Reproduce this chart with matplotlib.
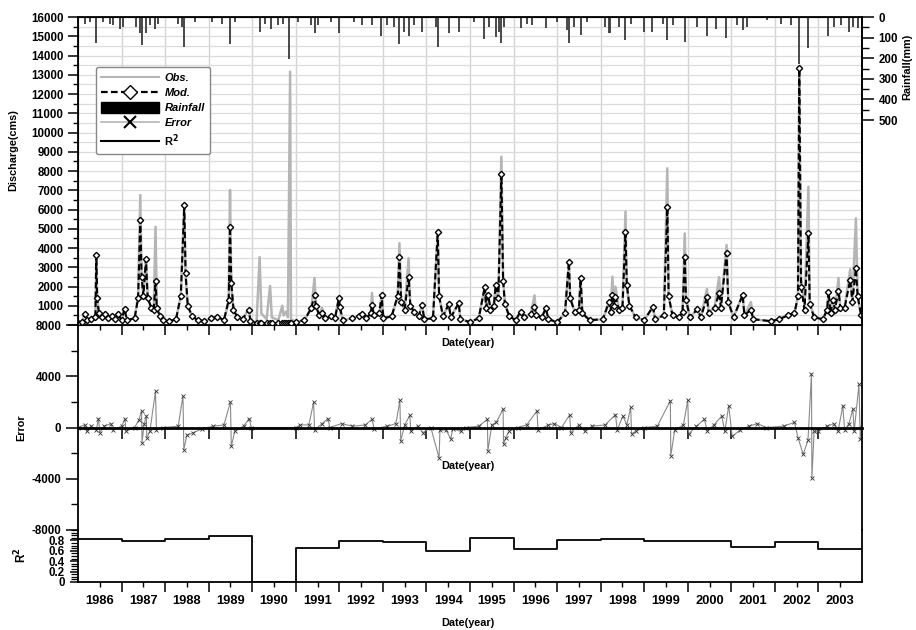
import matplotlib
matplotlib.use("Agg")
import matplotlib.pyplot as plt
import matplotlib.ticker as ticker
from matplotlib.lines import Line2D
from matplotlib.patches import Patch

plt.rcParams["font.family"] = ["Liberation Sans", "DejaVu Sans"]
plt.rcParams["font.weight"] = "bold"
plt.rcParams["axes.labelweight"] = "bold"
plt.rcParams["axes.unicode_minus"] = False

# ---- data ----
# hydrograph vertices: decimal year, observed and modelled discharge (cms)
hydro_t = [1986.00, 1986.10, 1986.15, 1986.20, 1986.30, 1986.40, 1986.42, 1986.44, 1986.48, 1986.55,
           1986.62, 1986.68, 1986.78, 1986.86, 1986.92, 1987.00, 1987.07, 1987.12, 1987.30, 1987.38,
           1987.43, 1987.46, 1987.50, 1987.56, 1987.60, 1987.68, 1987.74, 1987.78, 1987.81, 1987.88,
           1987.95, 1988.10, 1988.25, 1988.36, 1988.44, 1988.47, 1988.52, 1988.62, 1988.75, 1988.90,
           1989.05, 1989.20, 1989.35, 1989.46, 1989.49, 1989.52, 1989.57, 1989.66, 1989.78, 1989.92,
           1989.96, 1990.10, 1990.17, 1990.21, 1990.33, 1990.41, 1990.45, 1990.60, 1990.69, 1990.72,
           1990.78, 1990.82, 1990.87, 1990.89, 1991.00, 1991.20, 1991.36, 1991.43, 1991.46, 1991.54,
           1991.60, 1991.68, 1991.82, 1991.90, 1991.99, 1992.01, 1992.08, 1992.30, 1992.45, 1992.52,
           1992.62, 1992.72, 1992.75, 1992.79, 1992.92, 1992.97, 1993.01, 1993.20, 1993.34, 1993.38,
           1993.42, 1993.50, 1993.59, 1993.63, 1993.72, 1993.82, 1993.90, 1993.95, 1994.15, 1994.26,
           1994.29, 1994.38, 1994.51, 1994.56, 1994.74, 1994.78, 1995.00, 1995.20, 1995.34, 1995.37,
           1995.42, 1995.47, 1995.55, 1995.59, 1995.65, 1995.72, 1995.76, 1995.80, 1995.90, 1996.05,
           1996.16, 1996.25, 1996.40, 1996.48, 1996.52, 1996.65, 1996.74, 1996.80, 1997.00, 1997.18,
           1997.27, 1997.30, 1997.40, 1997.50, 1997.54, 1997.58, 1997.75, 1998.05, 1998.19, 1998.23,
           1998.27, 1998.30, 1998.34, 1998.42, 1998.50, 1998.57, 1998.60, 1998.66, 1998.80, 1999.00,
           1999.20, 1999.25, 1999.45, 1999.53, 1999.56, 1999.65, 1999.80, 1999.88, 1999.93, 1999.96,
           2000.05, 2000.22, 2000.30, 2000.44, 2000.48, 2000.62, 2000.72, 2000.76, 2000.89, 2000.93,
           2001.05, 2001.26, 2001.30, 2001.45, 2001.50, 2001.90, 2002.10, 2002.30, 2002.45, 2002.53,
           2002.56, 2002.60, 2002.68, 2002.77, 2002.80, 2002.90, 2003.10, 2003.20, 2003.23, 2003.28,
           2003.33, 2003.38, 2003.46, 2003.50, 2003.60, 2003.73, 2003.78, 2003.86, 2003.90, 2003.98]
obs_q = [120, 200, 600, 250, 350, 400, 3650, 1500, 650, 450,
         600, 350, 500, 350, 600, 250, 880, 250, 350, 1500,
         6750, 2600, 1500, 3420, 1500, 900, 800, 5100, 900, 450,
         250, 200, 300, 1500, 6230, 2500, 1000, 450, 250, 200,
         350, 450, 250, 1200, 7010, 2000, 800, 400, 350, 800,
         200, 150, 3530, 600, 300, 2030, 400, 250, 1000, 500,
         700, 400, 13160, 300, 150, 250, 900, 2440, 1000, 500,
         900, 350, 450, 350, 1400, 950, 250, 350, 500, 650,
         350, 600, 1660, 500, 600, 1560, 350, 450, 1500, 4250,
         1200, 800, 3470, 900, 650, 450, 1040, 300, 350, 4850,
         1500, 450, 1080, 400, 1130, 300, 150, 350, 1990, 900,
         1560, 800, 1200, 2080, 1300, 8740, 2500, 1200, 450, 250,
         700, 400, 600, 1540, 500, 400, 880, 300, 150, 600,
         3290, 1400, 700, 800, 2420, 600, 250, 300, 1190, 700,
         2510, 1000, 1990, 800, 900, 5890, 2000, 1000, 400, 250,
         950, 300, 500, 8140, 1500, 500, 400, 700, 4760, 1300,
         400, 820, 400, 1870, 600, 1000, 2490, 900, 4160, 1200,
         400, 1560, 500, 1190, 300, 200, 300, 550, 600, 1500,
         13250, 2500, 1000, 7190, 1200, 400, 300, 800, 1730, 600,
         1300, 800, 2440, 900, 900, 2900, 1200, 5540, 1500, 500]
mod_q = [120, 180, 550, 250, 320, 400, 3636, 1400, 600, 420,
         550, 350, 480, 330, 550, 250, 850, 250, 350, 1400,
         5450, 2500, 1500, 3420, 1400, 900, 800, 2290, 900, 450,
         250, 200, 300, 1500, 6230, 2700, 1000, 450, 250, 200,
         350, 420, 250, 1300, 5100, 2200, 800, 400, 300, 800,
         200, 100, 100, 100, 100, 100, 100, 100, 100, 100,
         100, 100, 100, 100, 150, 250, 900, 1560, 1000, 500,
         600, 350, 450, 350, 1400, 950, 250, 350, 450, 550,
         350, 600, 1040, 500, 600, 1560, 350, 450, 1500, 3550,
         1200, 800, 2510, 1000, 700, 450, 1040, 300, 350, 4850,
         1500, 450, 1080, 400, 1130, 300, 150, 350, 1990, 900,
         1560, 800, 1000, 2080, 1400, 7840, 2300, 1100, 450, 250,
         700, 400, 550, 950, 500, 400, 880, 300, 150, 600,
         3290, 1400, 700, 800, 2420, 600, 250, 300, 1190, 700,
         1560, 1000, 1470, 800, 900, 4850, 2100, 1000, 400, 250,
         950, 300, 500, 6110, 1500, 500, 400, 700, 3550, 1300,
         400, 820, 400, 1440, 600, 900, 1660, 900, 3720, 1200,
         400, 1560, 500, 800, 300, 200, 300, 500, 600, 1500,
         13330, 2000, 800, 4760, 1100, 400, 300, 800, 1730, 600,
         1300, 800, 1790, 900, 900, 2340, 1200, 2940, 1500, 500]

# daily rainfall bars (mm), hanging from the top
rain_t = [1986.15, 1986.27, 1986.42, 1986.57, 1986.73, 1986.80, 1986.96, 1987.03, 1987.34, 1987.42,
          1987.46, 1987.57, 1987.65, 1987.76, 1987.84, 1988.30, 1988.38, 1988.44, 1988.68, 1989.07,
          1989.30, 1989.49, 1989.60, 1990.18, 1990.29, 1990.44, 1990.60, 1990.71, 1990.84, 1991.06,
          1991.36, 1991.43, 1991.52, 1991.82, 1991.99, 1992.33, 1992.52, 1992.75, 1992.96, 1993.10,
          1993.25, 1993.36, 1993.48, 1993.60, 1993.71, 1993.90, 1994.21, 1994.26, 1994.51, 1994.74,
          1995.09, 1995.33, 1995.43, 1995.59, 1995.66, 1995.72, 1995.78, 1996.16, 1996.31, 1996.43,
          1996.74, 1997.00, 1997.23, 1997.27, 1997.39, 1997.54, 1997.69, 1998.11, 1998.19, 1998.21,
          1998.42, 1998.57, 1998.69, 1999.00, 1999.19, 1999.42, 1999.53, 1999.65, 1999.93, 2000.22,
          2000.44, 2000.64, 2000.87, 2001.14, 2001.26, 2001.37, 2001.83, 2002.14, 2002.37, 2002.56,
          2002.77, 2003.23, 2003.36, 2003.52, 2003.71, 2003.79, 2003.90]
rain_mm = [32, 24, 126, 24, 32, 40, 56, 48, 48, 80,
           137, 80, 40, 56, 32, 32, 48, 146, 24, 24,
           32, 129, 24, 74, 32, 56, 40, 32, 202, 24,
           40, 80, 40, 24, 80, 24, 40, 40, 94, 40,
           48, 129, 74, 90, 40, 74, 48, 146, 78, 74,
           24, 105, 48, 97, 74, 126, 48, 55, 32, 40,
           55, 24, 64, 126, 48, 86, 24, 48, 80, 80,
           48, 110, 32, 74, 74, 32, 113, 40, 121, 48,
           90, 56, 100, 40, 65, 48, 16, 32, 40, 226,
           149, 94, 48, 40, 74, 48, 55]

# simulation error (obs - mod), cms
err_t = [1986.00, 1986.15, 1986.20, 1986.30, 1986.42, 1986.47, 1986.50, 1986.60, 1986.76, 1986.80,
         1987.00, 1987.08, 1987.10, 1987.30, 1987.40, 1987.46, 1987.47, 1987.52, 1987.57, 1987.58,
         1987.65, 1987.78, 1987.80, 1987.95, 1988.30, 1988.41, 1988.43, 1988.50, 1988.65, 1988.85,
         1989.10, 1989.35, 1989.50, 1989.52, 1989.60, 1989.80, 1989.93, 1989.98, 1991.00, 1991.10,
         1991.30, 1991.41, 1991.43, 1991.60, 1991.74, 1991.78, 1992.05, 1992.30, 1992.60, 1992.75,
         1992.80, 1993.10, 1993.30, 1993.39, 1993.41, 1993.50, 1993.62, 1993.64, 1993.80, 1993.92,
         1994.10, 1994.29, 1994.31, 1994.45, 1994.56, 1994.60, 1994.79, 1994.90, 1995.20, 1995.40,
         1995.41, 1995.50, 1995.60, 1995.76, 1995.77, 1995.82, 1995.90, 1996.10, 1996.30, 1996.54,
         1996.56, 1996.80, 1996.94, 1997.10, 1997.29, 1997.31, 1997.50, 1997.64, 1997.80, 1998.10,
         1998.34, 1998.38, 1998.51, 1998.60, 1998.69, 1998.71, 1998.80, 1999.00, 1999.30, 1999.60,
         1999.61, 1999.70, 1999.90, 2000.00, 2000.02, 2000.20, 2000.38, 2000.45, 2000.60, 2000.78,
         2000.85, 2000.94, 2001.02, 2001.20, 2001.40, 2001.60, 2001.80, 2002.20, 2002.45, 2002.53,
         2002.65, 2002.76, 2002.84, 2002.85, 2002.90, 2003.00, 2003.20, 2003.35, 2003.45, 2003.56,
         2003.60, 2003.70, 2003.79, 2003.82, 2003.93, 2003.96, 2004.00]
err_v = [0, 200, -300, 100, -200, 700, -400, 100, 300, -200,
         100, 700, -300, 0, 600, 1300, -1180, 300, 900, -800,
         -300, 2850, -200, 0, 100, 2460, -1730, -600, -400, -100,
         100, 200, 1990, -1460, -300, 100, 700, 0, 0, 200,
         200, 1990, -200, 300, 700, 0, 300, 100, 200, 650,
         -100, 100, 300, 2140, -1040, 200, 960, -300, 100, -400,
         0, -2380, -200, -200, -900, -100, -300, 0, 100, 650,
         -1830, 200, 400, 1430, -1300, -800, -300, 0, 200, 1300,
         -200, 200, 300, 0, 1000, -400, 200, -300, 100, 200,
         1000, -200, 900, 200, 1570, -500, -300, 0, 100, 2090,
         -2220, -200, 200, 2140, -500, 100, 650, -300, 200, 900,
         -300, 1700, -700, -200, 100, 300, 0, 100, 400, -800,
         -2090, -1000, 4200, -3950, -300, -300, 100, 300, -300, 1700,
         -200, 300, 1440, -300, 3370, -900, 0]

# yearly R^2
r2_year = list(range(1986, 2004))
r2_val = [0.83, 0.79, 0.82, 0.876, 0.0, 0.66, 0.79, 0.77, 0.60,
          0.84, 0.63, 0.80, 0.82, 0.79, 0.78, 0.67, 0.76, 0.64]
year_labels = [str(y) for y in r2_year]

# ---- figure ----
W, H = 916, 630
fig = plt.figure(figsize=(W / 100, H / 100), dpi=100)
x0, x1 = 78, 862
def box(top, bot):
  return [x0 / W, 1 - bot / H, (x1 - x0) / W, (bot - top) / H]

ax_q = fig.add_axes(box(17, 325))
ax_e = fig.add_axes(box(325, 530))
ax_r = fig.add_axes(box(530, 582))

grey = "#b5b5b5"
tick_kw = dict(labelsize=8.3, width=1.1, direction="out")

# discharge
ax_q.set_axisbelow(True)
ax_q.plot(hydro_t, obs_q, color=grey, lw=1.8, zorder=2)
ax_q.plot(hydro_t, mod_q, color="black", lw=1.5, ls=(0, (3, 1.5)), marker="D", ms=3.2,
          mfc="white", mec="black", mew=1.0, zorder=3)
ax_q.set_xlim(1986, 2004)
ax_q.set_ylim(0, 16000)
ax_q.set_yticks(range(0, 16001, 1000))
ax_q.set_yticklabels([""] + [str(v) for v in range(1000, 16001, 1000)])
ax_q.yaxis.set_minor_locator(ticker.MultipleLocator(500))
ax_q.set_xticks(range(1987, 2004))
ax_q.xaxis.set_minor_locator(ticker.FixedLocator([y + 0.5 for y in r2_year]))
ax_q.set_xticklabels([])
ax_q.grid(True, which="major", axis="x", color="#d4d4d4", lw=1.0)
ax_q.grid(True, which="minor", axis="y", color="#dcdcdc", lw=0.9)
ax_q.grid(True, which="major", axis="y", color="#dcdcdc", lw=0.9)
ax_q.tick_params(axis="both", which="major", length=7, **tick_kw)
ax_q.tick_params(axis="both", which="minor", length=3.5, width=1.0, direction="out")
for s in ax_q.spines.values():
  s.set_linewidth(1.3)

# rainfall on inverted right axis
ax_p = ax_q.twinx()
ax_p.vlines(rain_t, 0, rain_mm, color="#3a3a3a", lw=1.3)
ax_p.set_ylim(1495, 0)
ax_p.set_yticks(range(0, 501, 100))
ax_p.yaxis.set_minor_locator(ticker.FixedLocator(range(50, 500, 100)))
ax_p.tick_params(axis="y", which="major", length=8.5, **tick_kw)
ax_p.tick_params(axis="y", which="minor", length=5, width=1.0, direction="out")
ax_p.spines["right"].set_linewidth(1.3)

# error
ax_e.plot(err_t, err_v, color="#8a8a8a", lw=0.8, marker="x", ms=2.5, mec="#333333", mew=0.6)
ax_e.set_xlim(1986, 2004)
ax_e.set_ylim(-8000, 8000)
ax_e.set_yticks([-8000, -4000, 0, 4000, 8000])
ax_e.yaxis.set_minor_locator(ticker.FixedLocator([-6000, -2000, 2000, 6000]))
ax_e.spines["top"].set_visible(False)
ax_e.spines["bottom"].set_position(("data", 0))
ax_e.spines["bottom"].set_linewidth(2.0)
ax_e.spines["left"].set_linewidth(1.3)
ax_e.spines["right"].set_linewidth(1.3)
ax_e.set_xticks(range(1987, 2004))
ax_e.set_xticklabels([])
ax_e.tick_params(axis="x", which="major", length=8, width=1.1, direction="out")
ax_e.tick_params(axis="y", which="major", length=8.5, **tick_kw)
ax_e.tick_params(axis="y", which="minor", length=5, width=1.0, direction="out")
ax_e.patch.set_alpha(0)

# R^2
ax_r.step(r2_year + [2004], r2_val + [r2_val[-1]], where="post", color="black", lw=1.3)
ax_r.set_xlim(1986, 2004)
ax_r.set_ylim(0, 1)
ax_r.set_yticks([0, 0.2, 0.4, 0.6, 0.8])
ax_r.set_yticklabels(["0", "0.2", "0.4", "0.6", "0.8"])
ax_r.yaxis.set_minor_locator(ticker.MultipleLocator(0.05))
ax_r.spines["top"].set_visible(False)
for k in ("left", "right", "bottom"):
  ax_r.spines[k].set_linewidth(1.3)
ax_r.set_xticks(range(1987, 2004))
ax_r.set_xticklabels([])
ax_r.xaxis.set_minor_locator(ticker.FixedLocator([y + 0.5 for y in r2_year]))
ax_r.xaxis.set_minor_formatter(ticker.FixedFormatter(year_labels))
ax_r.tick_params(axis="x", which="major", length=7.5, width=1.1, direction="out")
ax_r.tick_params(axis="x", which="minor", length=3.5, width=1.0, direction="out", labelsize=9.3, pad=6)
ax_r.tick_params(axis="y", which="major", length=6, **tick_kw)
ax_r.tick_params(axis="y", which="minor", length=5, width=0.9, direction="out")
ax_r.patch.set_alpha(0)

# axis titles
fig.text(13 / W, 1 - 150 / H, "Discharge(cms)", rotation=90, ha="center", va="center", fontsize=7.8)
fig.text(907 / W, 1 - 67 / H, "Rainfall(mm)", rotation=90, ha="center", va="center", fontsize=7.8)
fig.text(21 / W, 1 - 428 / H, "Error", rotation=90, ha="center", va="center", fontsize=7.8)
fig.text(21 / W, 1 - 555 / H, "R$^2$", rotation=90, ha="center", va="center", fontsize=8.5)
for yy in (343, 466, 623):
  fig.text(468 / W, 1 - yy / H, "Date(year)", ha="center", va="center", fontsize=7.8)

# legend
handles = [
  Line2D([], [], color=grey, lw=1.5),
  Line2D([], [], color="black", lw=1.6, ls=(0, (3, 1.5)), marker="D", ms=7, mfc="white", mec="black", mew=1),
  Patch(facecolor="black", edgecolor="black"),
  Line2D([], [], color=grey, lw=1.2, marker="x", ms=9, mec="black", mew=1.5),
  Line2D([], [], color="black", lw=1.5),
]
leg = ax_q.legend(handles, ["Obs.", "Mod.", "Rainfall", "Error", "R$^2$"],
                  loc="upper left", bbox_to_anchor=(90 / W, 1 - 61 / H), bbox_transform=fig.transFigure,
                  fontsize=8, handlelength=5.2, handleheight=1.1, labelspacing=0.35,
                  fancybox=True, framealpha=1, edgecolor="#888888", borderpad=0.5, handletextpad=0.5)
leg.get_frame().set_linewidth(1.0)
for t in leg.get_texts()[:4]:
  t.set_style("italic")

fig.savefig("out.png", dpi=100)
